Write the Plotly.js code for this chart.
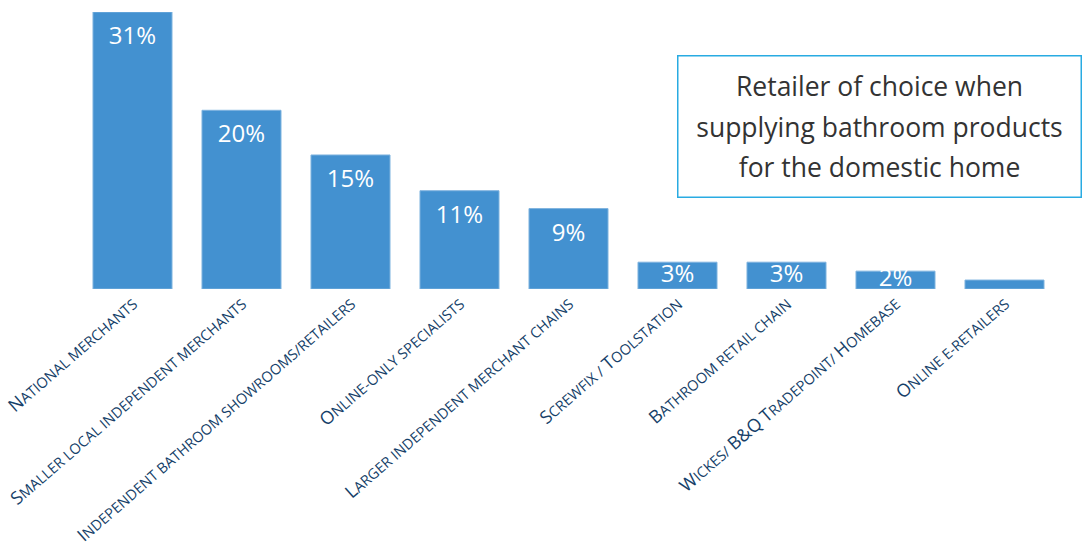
<!DOCTYPE html>
<html>
<head>
<meta charset="utf-8">
<script src="https://cdn.plot.ly/plotly-3.0.1.min.js"></script>
<style>html,body{margin:0;padding:0;background:#fff;}#chart{width:1083px;height:547px;}</style>
</head>
<body>
<div id="chart"></div>
<script>
const categories = [
  "National merchants",
  "Smaller local independent merchants",
  "Independent bathroom showrooms/retailers",
  "Online-only specialists",
  "Larger independent merchant chains",
  "Screwfix / Toolstation",
  "Bathroom retail chain",
  "Wickes/ B&Q Tradepoint/ Homebase",
  "Online e-retailers"
];
const values = [31, 20, 15, 11, 9, 3, 3, 2, 1];
const valueLabels = ["31%", "20%", "15%", "11%", "9%", "3%", "3%", "2%", ""];
const chartTitle = "Retailer of choice when<br>supplying bathroom products<br>for the domestic home";

// small caps rendering: uppercase letters big, lowercase as smaller capitals
function smallCaps(s) {
  let out = "", buf = "";
  const flush = () => { if (buf) { out += '<span style="font-size:14.5px">' + buf.toUpperCase() + '</span>'; buf = ""; } };
  for (const ch of s) {
    if ((ch >= "A" && ch <= "Z") || ch === "&") { flush(); out += (ch === "&" ? "&amp;" : ch); }
    else buf += ch;
  }
  flush();
  return out;
}
const tickText = categories.map(smallCaps);

// labels sit at the inside end of tall bars, centred in bars too short to hold them
const fitsAtTop = values.map(v => v >= 5);
const labelY = values.map((v, i) => fitsAtTop[i] ? v : v / 2);
const labelPos = fitsAtTop.map(f => f ? "bottom center" : "middle center");

const bars = {
  type: "bar",
  x: categories,
  y: values,
  width: 0.725,
  marker: { color: "#4391d0", line: { color: "#7fb3df", width: 1 } },
  hoverinfo: "skip"
};

const labels = {
  type: "scatter",
  mode: "markers+text",
  x: categories,
  y: labelY,
  text: valueLabels,
  textposition: labelPos,
  marker: { size: 21, opacity: 0, color: "#4391d0" },
  cliponaxis: false,
  textfont: { family: "Open Sans", size: 24, color: "#ffffff" },
  hoverinfo: "skip"
};

const layout = {
  width: 1083,
  height: 547,
  margin: { l: 78, r: 24, t: 12, b: 258 },
  paper_bgcolor: "#ffffff",
  plot_bgcolor: "#ffffff",
  showlegend: false,
  font: { family: "Open Sans", color: "#163f69" },
  xaxis: {
    type: "category",
    range: [-0.5, categories.length - 0.5],
    tickmode: "array",
    tickvals: categories,
    ticktext: tickText,
    tickangle: -41,
    tickfont: { family: "Open Sans", size: 18, color: "#163f69" },
    showline: false,
    ticks: "",
    showgrid: false,
    zeroline: false
  },
  yaxis: {
    range: [0, 31],
    visible: false,
    showgrid: false,
    zeroline: false
  },
  annotations: [{
    xref: "paper", yref: "paper",
    x: 0.8175, y: 0.5884,
    xanchor: "center", yanchor: "middle",
    text: '<span style="font-size:26.5px">' + chartTitle.split("<br>").join('</span><br><span style="font-size:26.5px">') + '</span>',
    showarrow: false,
    font: { family: "Open Sans", size: 31, color: "#333333" },
    align: "center",
    width: 400, height: 138,
    bordercolor: "#29abe2",
    borderwidth: 1.5,
    borderpad: 1,
    bgcolor: "#ffffff"
  }]
};

Plotly.newPlot("chart", [bars, labels], layout, { displayModeBar: false, staticPlot: true });
</script>
</body>
</html>
